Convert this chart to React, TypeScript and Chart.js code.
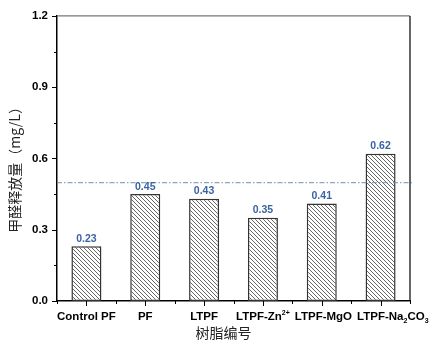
import React, { useEffect, useRef } from "react";
import { Chart, registerables } from "chart.js";

Chart.register(...registerables);

const categories = ["Control PF", "PF", "LTPF", "LTPF-Zn²⁺", "LTPF-MgO", "LTPF-Na₂CO₃"];
const releaseValues = [0.23, 0.45, 0.43, 0.35, 0.41, 0.62];
const limitValue = 0.5;
const yMin = 0;
const yMax = 1.2;
const yStep = 0.3;
const yTitle = "甲醛释放量（mg/L）";
const xTitle = "树脂编号";

const FONT = "'Liberation Sans', Arial, 'DejaVu Sans', sans-serif";
const CJK = "'Noto Sans CJK SC', sans-serif";

const SUB: Record<string, string> = { "₂": "2", "₃": "3" };
const SUP: Record<string, string> = { "²": "2", "⁺": "+" };

function makeHatch(): CanvasPattern | string {
  const s = 4;
  const c = document.createElement("canvas");
  c.width = s;
  c.height = s;
  const g = c.getContext("2d");
  if (!g) return "#fff";
  g.fillStyle = "#fff";
  g.fillRect(0, 0, s, s);
  g.strokeStyle = "#555";
  g.lineWidth = 0.9;
  g.beginPath();
  g.moveTo(-1, -1);
  g.lineTo(s + 1, s + 1);
  g.moveTo(-1, s - 1);
  g.lineTo(1, s + 1);
  g.moveTo(s - 1, -1);
  g.lineTo(s + 1, 1);
  g.stroke();
  const p = g.createPattern(c, "repeat");
  return p || "#fff";
}

function splitLabel(label: string) {
  const parts: { t: string; mode: number }[] = [];
  for (const ch of label) {
    let mode = 0;
    let t = ch;
    if (SUB[ch]) { mode = 1; t = SUB[ch]; }
    else if (SUP[ch]) { mode = -1; t = SUP[ch]; }
    const last = parts[parts.length - 1];
    if (last && last.mode === mode) last.t += t;
    else parts.push({ t, mode });
  }
  return parts;
}

const BIG = `bold 11.5px ${FONT}`;
const SMALL = `bold 7px ${FONT}`;

function measureRich(ctx: CanvasRenderingContext2D, label: string) {
  let total = 0;
  for (const p of splitLabel(label)) {
    ctx.font = p.mode === 0 ? BIG : SMALL;
    total += ctx.measureText(p.t).width;
  }
  return total;
}

function drawRichLabel(ctx: CanvasRenderingContext2D, label: string, x0: number, y: number) {
  let x = x0;
  ctx.textAlign = "left";
  ctx.textBaseline = "alphabetic";
  for (const p of splitLabel(label)) {
    ctx.font = p.mode === 0 ? BIG : SMALL;
    const dy = p.mode === 1 ? 3 : p.mode === -1 ? -5 : 0;
    ctx.fillText(p.t, x, y + dy);
    x += ctx.measureText(p.t).width;
  }
}

const decorPlugin = {
  id: "decor",
  afterDatasetsDraw(chart: any) {
    const ctx = chart.ctx;
    const { left, right, top, bottom } = chart.chartArea;
    const ys = chart.scales.y;
    const xs = chart.scales.x;
    ctx.save();
    // limit line
    const yl = ys.getPixelForValue(limitValue);
    ctx.strokeStyle = "#6f91ad";
    ctx.lineWidth = 1;
    ctx.setLineDash([5, 2, 1.5, 2]);
    ctx.beginPath();
    ctx.moveTo(left, yl + 0.5);
    ctx.lineTo(right + 2, yl + 0.5);
    ctx.stroke();
    ctx.setLineDash([]);
    // value labels
    const meta = chart.getDatasetMeta(0);
    ctx.fillStyle = "#3b63a3";
    ctx.font = `bold 10.5px ${FONT}`;
    ctx.textAlign = "center";
    ctx.textBaseline = "bottom";
    meta.data.forEach((bar: any, i: number) => {
      ctx.fillText(releaseValues[i].toFixed(2), bar.x, bar.y - 2);
    });
    // frame
    ctx.strokeStyle = "#777";
    ctx.lineWidth = 1.2;
    ctx.beginPath();
    ctx.moveTo(left, top);
    ctx.lineTo(right, top);
    ctx.stroke();
    ctx.strokeStyle = "#000";
    ctx.lineWidth = 1.2;
    ctx.beginPath();
    ctx.moveTo(right, top);
    ctx.lineTo(right, bottom);
    ctx.stroke();
    // y ticks
    ctx.strokeStyle = "#000";
    ctx.lineWidth = 1;
    for (let v = yMin; v <= yMax + 1e-9; v += yStep / 2) {
      const major = Math.abs(v / yStep - Math.round(v / yStep)) < 1e-6;
      const py = Math.round(ys.getPixelForValue(v)) + 0.5;
      ctx.beginPath();
      ctx.moveTo(left, py);
      ctx.lineTo(left - (major ? 5 : 3), py);
      ctx.stroke();
    }
    // x ticks
    const n = categories.length;
    for (let i = 0; i < n; i++) {
      const px = Math.round(xs.getPixelForValue(i)) + 0.5;
      ctx.beginPath();
      ctx.moveTo(px, bottom);
      ctx.lineTo(px, bottom + 5);
      ctx.stroke();
    }
    const w = (right - left) / n;
    for (let i = 0; i <= n; i++) {
      const px = Math.round(left + i * w) + 0.5;
      ctx.beginPath();
      ctx.moveTo(px, bottom);
      ctx.lineTo(px, bottom + 3);
      ctx.stroke();
    }
    // x labels (shifted right if they would collide with the previous one)
    ctx.fillStyle = "#000";
    let prevRight = -Infinity;
    categories.forEach((c, i) => {
      const wdt = measureRich(ctx, c);
      let x0 = xs.getPixelForValue(i) - wdt / 2;
      if (x0 < prevRight + 5) x0 = prevRight + 5;
      drawRichLabel(ctx, c, x0, bottom + 19);
      prevRight = x0 + wdt;
    });
    // titles
    ctx.fillStyle = "#222";
    ctx.font = `14px ${CJK}`;
    ctx.textAlign = "center";
    ctx.textBaseline = "middle";
    ctx.fillText(xTitle, (left + right) / 2 - 10, 333);
    ctx.save();
    ctx.translate(15, (top + bottom) / 2 + 8);
    ctx.rotate(-Math.PI / 2);
    ctx.fillText(yTitle, 0, 0);
    ctx.restore();
    ctx.restore();
  },
};

export default function App() {
  const ref = useRef<HTMLCanvasElement>(null);
  useEffect(() => {
    if (!ref.current) return;
    const hatch = makeHatch();
    const chart = new Chart(ref.current, {
      type: "bar",
      data: {
        labels: categories,
        datasets: [
          {
            data: releaseValues,
            backgroundColor: hatch as any,
            borderColor: "#333",
            borderWidth: 1.5,
            borderSkipped: false,
            barPercentage: 0.51,
            categoryPercentage: 1,
          },
        ],
      },
      options: {
        animation: false,
        responsive: false,
        devicePixelRatio: 1,
        layout: { padding: { left: 0, top: 15, right: 30, bottom: 0 } },
        plugins: { legend: { display: false }, tooltip: { enabled: false } },
        scales: {
          x: {
            offset: true,
            grid: { display: false, drawTicks: false },
            border: { display: true, color: "#000", width: 1.5 },
            ticks: { display: false, autoSkip: false },
            afterFit(scale: any) {
              scale.height = 49;
            },
          },
          y: {
            min: yMin,
            max: yMax,
            grid: { display: false, drawTicks: false },
            border: { display: true, color: "#000", width: 1.5 },
            ticks: {
              stepSize: yStep,
              color: "#000",
              font: { family: FONT, weight: "bold", size: 11.5 },
              padding: 9,
              callback: (v: any) => Number(v).toFixed(1),
            },
            afterFit(scale: any) {
              scale.width = 57;
            },
          },
        },
      },
      plugins: [decorPlugin],
    });
    return () => chart.destroy();
  }, []);
  return (
    <div style={{ position: "fixed", left: 0, top: 0, width: 440, height: 350, background: "#fff" }}>
      <canvas ref={ref} width={440} height={350} style={{ width: 440, height: 350 }} />
    </div>
  );
}
